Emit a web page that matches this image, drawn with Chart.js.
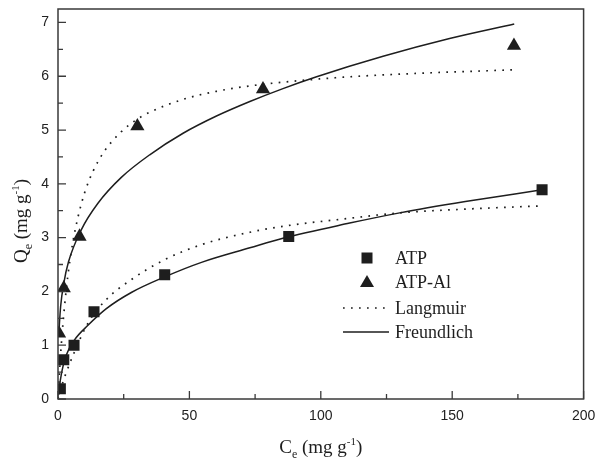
<!DOCTYPE html>
<html>
<head>
<meta charset="utf-8">
<script src="https://cdn.jsdelivr.net/npm/chart.js@4/dist/chart.umd.min.js"></script>
<style>
  html, body { margin: 0; background: #fff; }
</style>
</head>
<body>
<canvas id="chart" width="595" height="466"></canvas>
<script>
// measured points
const atpC = [0.9, 2.2, 6.1, 13.7, 40.6, 87.8, 184.2];
const atpQ = [0.19, 0.73, 1.0, 1.62, 2.31, 3.02, 3.89];
const alC = [0.4, 2.2, 8.2, 30.2, 78.0, 173.5];
const alQ = [1.22, 2.06, 3.02, 5.07, 5.76, 6.57];

// fitted curves
const langAtpC = [0, 0.2, 1, 3.2, 5.7, 11.4, 18.4, 27.9, 40.6, 54.6, 73, 85.6, 111, 130, 155, 184];
const langAtpQ = [0, 0.04, 0.18, 0.50, 0.81, 1.41, 1.85, 2.22, 2.59, 2.87, 3.10, 3.21, 3.36, 3.46, 3.53, 3.59];
const freuAtpC = [0.3, 0.5, 1.5, 3.0, 6.3, 11.4, 18.4, 27.9, 40.6, 54.6, 73, 85.6, 111, 130, 155, 184.2];
const freuAtpQ = [0.08, 0.2, 0.52, 0.8, 1.1, 1.37, 1.68, 1.98, 2.27, 2.54, 2.81, 2.99, 3.27, 3.46, 3.67, 3.89];
const langAlC = [0, 0.2, 0.8, 1.5, 2.5, 3.8, 5.7, 7.6, 10.1, 13.3, 17.7, 24.1, 29.8, 34.9, 47.6, 60.3, 73, 85.6, 111, 140, 174];
const langAlQ = [0, 0.19, 0.68, 1.17, 1.73, 2.31, 2.93, 3.38, 3.83, 4.23, 4.61, 4.97, 5.19, 5.33, 5.57, 5.72, 5.82, 5.89, 5.99, 6.06, 6.12];
const freuAlC = [0.3, 1, 2.2, 4, 8.9, 15.2, 24.1, 34.9, 47.6, 60.3, 73, 85.6, 98.4, 123.7, 149, 173.6];
const freuAlQ = [1.22, 1.72, 2.15, 2.55, 3.15, 3.64, 4.12, 4.54, 4.94, 5.26, 5.53, 5.77, 5.99, 6.37, 6.70, 6.97];

const xTicks = [0, 50, 100, 150, 200];
const yTicks = [0, 1, 2, 3, 4, 5, 6, 7];

const legendItems = ["ATP", "ATP-Al", "Langmuir", "Freundlich"];

const ink = "#1e1e1e";
const pts = (xs, ys) => xs.map((x, i) => ({ x, y: ys[i] }));

const curve = (data, dotted) => ({
  data,
  showLine: true,
  pointRadius: 0,
  borderColor: ink,
  borderWidth: dotted ? 1.7 : 1.5,
  borderDash: dotted ? [1.7, 6.3] : [],
  cubicInterpolationMode: "monotone",
  fill: false,
  order: 2
});

const marker = (data, style) => ({
  data,
  showLine: false,
  pointStyle: style,
  pointRadius: style === "rect" ? 7.8 : 8.2,
  pointBackgroundColor: ink,
  pointBorderColor: ink,
  pointBorderWidth: 0,
  order: 0
});

function drawSubSup(ctx, parts, x, y, align) {
  // parts: [text, size, dy]
  let total = 0;
  parts.forEach(([t, s]) => {
    ctx.font = s + "px 'Liberation Serif', 'Times New Roman', serif";
    total += ctx.measureText(t).width;
  });
  let cx = align === "center" ? x - total / 2 : x;
  parts.forEach(([t, s, dy]) => {
    ctx.font = s + "px 'Liberation Serif', 'Times New Roman', serif";
    ctx.fillText(t, cx, y + dy);
    cx += ctx.measureText(t).width;
  });
}

const framePlugin = {
  id: "frame",
  afterDraw(chart) {
    const { ctx, chartArea: a, scales } = chart;
    const xs = scales.x, ys = scales.y;
    ctx.save();
    ctx.strokeStyle = "#3a3a3a";
    ctx.lineWidth = 1.5;
    ctx.strokeRect(a.left, a.top, a.right - a.left, a.bottom - a.top);

    // inward tick marks, majors on the labels, minors half way
    ctx.lineWidth = 1.3;
    ctx.beginPath();
    for (let i = 0; i < xTicks.length; i++) {
      const px = xs.getPixelForValue(xTicks[i]);
      ctx.moveTo(px, a.bottom);
      ctx.lineTo(px, a.bottom - 8);
      if (i < xTicks.length - 1) {
        const mx = xs.getPixelForValue((xTicks[i] + xTicks[i + 1]) / 2);
        ctx.moveTo(mx, a.bottom);
        ctx.lineTo(mx, a.bottom - 5);
      }
    }
    for (let i = 0; i < yTicks.length; i++) {
      const py = ys.getPixelForValue(yTicks[i]);
      ctx.moveTo(a.left, py);
      ctx.lineTo(a.left + 8, py);
      const my = ys.getPixelForValue(yTicks[i] + 0.5);
      if (my > a.top) {
        ctx.moveTo(a.left, my);
        ctx.lineTo(a.left + 5, my);
      }
    }
    ctx.stroke();

    // legend
    ctx.fillStyle = ink;
    ctx.strokeStyle = ink;
    const symX = a.left + 309, textX = a.left + 337;
    const rows = [a.top + 249, a.top + 273, a.top + 299, a.top + 323];
    ctx.fillRect(symX - 5.5, rows[0] - 5.5, 11, 11);
    ctx.beginPath();
    ctx.moveTo(symX, rows[1] - 7);
    ctx.lineTo(symX + 7, rows[1] + 5);
    ctx.lineTo(symX - 7, rows[1] + 5);
    ctx.closePath();
    ctx.fill();
    ctx.lineWidth = 1.7;
    ctx.setLineDash([1.7, 6.3]);
    ctx.beginPath();
    ctx.moveTo(symX - 24, rows[2]);
    ctx.lineTo(symX + 22, rows[2]);
    ctx.stroke();
    ctx.setLineDash([]);
    ctx.lineWidth = 1.5;
    ctx.beginPath();
    ctx.moveTo(symX - 24, rows[3]);
    ctx.lineTo(symX + 22, rows[3]);
    ctx.stroke();
    ctx.font = "18px 'Liberation Serif', 'Times New Roman', serif";
    ctx.textBaseline = "middle";
    legendItems.forEach((t, i) => ctx.fillText(t, textX, rows[i] + 1));

    // axis titles with sub / superscripts
    ctx.textBaseline = "alphabetic";
    drawSubSup(ctx, [["C", 19, 0], ["e", 12, 5], [" (mg g", 19, 0], ["-1", 11, -8], [")", 19, 0]],
      (a.left + a.right) / 2, 453, "center");
    ctx.translate(27, (a.top + a.bottom) / 2 + 17);
    ctx.rotate(-Math.PI / 2);
    drawSubSup(ctx, [["Q", 19, 0], ["e", 12, 5], [" (mg g", 19, 0], ["-1", 11, -8], [")", 19, 0]],
      0, 0, "center");
    ctx.restore();
  }
};

new Chart(document.getElementById("chart"), {
  type: "scatter",
  data: {
    datasets: [
      marker(pts(atpC, atpQ), "rect"),
      marker(pts(alC, alQ), "triangle"),
      curve(pts(langAtpC, langAtpQ), true),
      curve(pts(langAlC, langAlQ), true),
      curve(pts(freuAtpC, freuAtpQ), false),
      curve(pts(freuAlC, freuAlQ), false)
    ]
  },
  options: {
    responsive: false,
    animation: false,
    layout: { padding: { top: 9, right: 11.4, left: 0, bottom: 0 } },
    plugins: {
      legend: { display: false },
      tooltip: { enabled: false }
    },
    scales: {
      x: {
        type: "linear",
        min: 0,
        max: 200,
        afterFit: (s) => {
          s.height = 67;
          s.paddingLeft = 0;
          s.paddingRight = 0;
        },
        afterBuildTicks: (s) => { s.ticks = xTicks.map((v) => ({ value: v })); },
        grid: { display: false, drawTicks: false },
        border: { display: false },
        ticks: {
          padding: 9,
          color: "#222",
          font: { family: "'Liberation Sans', Arial, sans-serif", size: 14 },
          maxRotation: 0
        }
      },
      y: {
        type: "linear",
        min: 0,
        max: 7.25,
        afterFit: (s) => {
          s.width = 58;
          s.paddingTop = 0;
          s.paddingBottom = 0;
        },
        afterBuildTicks: (s) => { s.ticks = yTicks.map((v) => ({ value: v })); },
        grid: { display: false, drawTicks: false },
        border: { display: false },
        ticks: {
          padding: 9,
          color: "#222",
          font: { family: "'Liberation Sans', Arial, sans-serif", size: 14 }
        }
      }
    }
  },
  plugins: [framePlugin]
});
</script>
</body>
</html>
